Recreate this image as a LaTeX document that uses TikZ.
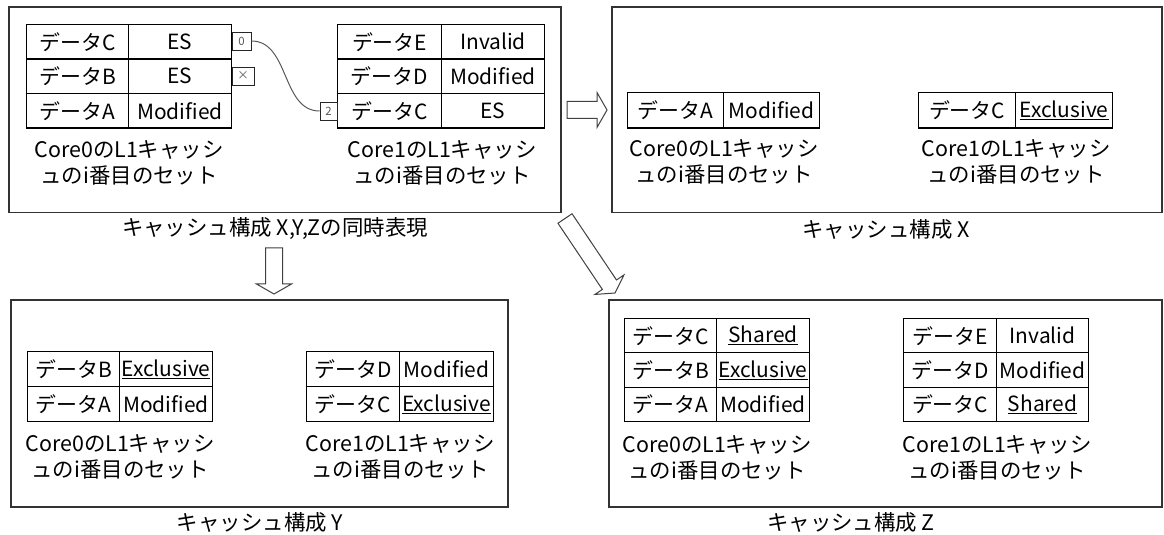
\documentclass[tikz,border=0pt]{standalone}
\usepackage{fontspec}
\setmainfont{Noto Sans CJK JP}
\usetikzlibrary{calc}
\tikzset{
  panel/.style={draw=black!80, line width=1.3bp},
  cell/.style={draw=black, line width=1.1bp, inner sep=0pt, anchor=north west,
    font=\fontsize{21}{24}\selectfont},
  capt/.style={align=center, inner sep=0pt, font=\fontsize{21.5}{26}\selectfont},
  ttl/.style={inner sep=0pt, font=\fontsize{21.5}{24}\selectfont},
  tag/.style={draw=black!85, line width=0.9bp, inner sep=0pt, minimum height=18bp,
    text=black!65, font=\fontsize{11.5}{11.5}\selectfont},
  link/.style={draw=black!65, line width=1bp},
  barrow/.style={draw=black!75, line width=1bp, fill=white, line join=miter},
}
% one table row: name, x, y, w1, w2, h, label, state
\newcommand\crow[8]{%
  \node[cell, minimum width=#4bp, minimum height=#6bp] (#1a) at (#2,#3) {#7};
  \node[cell, minimum width=#5bp, minimum height=#6bp] (#1b) at (#2+#4,#3) {#8};}
% block arrow: prefix, start, tip
\newcommand\blockarrow[3]{%
  \coordinate (#1h) at ($(#3)!10bp!(#2)$);
  \draw[barrow] ($(#2)!8.5bp!90:(#3)$) -- ($(#1h)!8.5bp!-90:(#2)$)
    -- ($(#1h)!17.5bp!-90:(#2)$) -- (#3) -- ($(#1h)!17.5bp!90:(#2)$)
    -- ($(#1h)!8.5bp!90:(#2)$) -- ($(#2)!8.5bp!-90:(#3)$) -- cycle;}
\newcommand\coretext[1]{Core#1のL1キャッシ\\ュのi番目のセット}
\begin{document}
\begin{tikzpicture}[x=1bp,y=-1bp]
\useasboundingbox (0,0) rectangle (1164,535);
% panels
\node[panel, minimum width=552bp, minimum height=205.5bp] (pTL) at (285,109.75) {};
\node[panel, minimum width=550bp, minimum height=205.5bp] (pTR) at (887,109.75) {};
\node[panel, minimum width=497bp, minimum height=207bp] (pBL) at (259.5,403.5) {};
\node[panel, minimum width=553bp, minimum height=207bp] (pBR) at (885.5,403.5) {};
% titles
\node[ttl] (tTL) at (275,229) {キャッシュ構成 X,Y,Zの同時表現};
\node[ttl] (tTR) at (886,229) {キャッシュ構成 X};
\node[ttl] (tBL) at (260,522) {キャッシュ構成 Y};
\node[ttl] (tBR) at (851,522) {キャッシュ構成 Z};

% ---- top-left: simultaneous representation
\crow{tlA1}{26}{24}{102}{103}{34.5}{データC}{ES}
\crow{tlA2}{26}{58.5}{102}{103}{34.5}{データB}{ES}
\crow{tlA3}{26}{93}{102}{103}{34.5}{データA}{Modified}
\node[capt] (ctlA) at ($(tlA3a.south east)+(0,34)$) {\coretext{0}};
\crow{tlB1}{337}{24}{104}{103}{34.5}{データE}{Invalid}
\crow{tlB2}{337}{58.5}{104}{103}{34.5}{データD}{Modified}
\crow{tlB3}{337}{93}{104}{103}{34.5}{データC}{ES}
\node[capt] (ctlB) at ($(tlB3a.south east)+(0,34)$) {\coretext{1}};
\node[tag, minimum width=19bp] (g0) at (241.5,41) {0};
\node[tag, minimum width=22bp] (gx) at (243,76) {×};
\node[tag, minimum width=17bp] (g2) at (328.5,111) {2};
\draw[link] (g0.east) to[out=0,in=180] (g2.west);

% ---- top-right: X
\crow{trA1}{627}{92}{96}{96}{35.5}{データA}{Modified}
\node[capt] (ctrA) at ($(trA1a.south east)+(0,33)$) {\coretext{0}};
\crow{trB1}{918}{92}{97}{97}{35.5}{データC}{\underline{Exclusive}}
\node[capt] (ctrB) at ($(trB1a.south east)+(0,33)$) {\coretext{1}};

% ---- bottom-left: Y
\crow{blA1}{27}{351}{92}{93}{35}{データB}{\underline{Exclusive}}
\crow{blA2}{27}{386}{92}{93}{35}{データA}{Modified}
\node[capt] (cblA) at ($(blA2a.south east)+(0,34.5)$) {\coretext{0}};
\crow{blB1}{306}{351}{93}{94}{35}{データD}{Modified}
\crow{blB2}{306}{386}{93}{94}{35}{データC}{\underline{Exclusive}}
\node[capt] (cblB) at ($(blB2a.south east)+(0,34.5)$) {\coretext{1}};

% ---- bottom-right: Z
\crow{brA1}{624}{318}{92}{93}{34.3}{データC}{\underline{Shared}}
\crow{brA2}{624}{352.3}{92}{93}{34.3}{データB}{\underline{Exclusive}}
\crow{brA3}{624}{386.6}{92}{93}{34.4}{データA}{Modified}
\node[capt] (cbrA) at ($(brA3a.south east)+(0,35.5)$) {\coretext{0}};
\crow{brB1}{903}{318}{93}{92}{34.3}{データE}{Invalid}
\crow{brB2}{903}{352.3}{93}{92}{34.3}{データD}{Modified}
\crow{brB3}{903}{386.6}{93}{92}{34.4}{データC}{\underline{Shared}}
\node[capt] (cbrB) at ($(brB3a.south east)+(0,35.5)$) {\coretext{1}};

% ---- block arrows
\coordinate (r1s) at (567,110);
\coordinate (r1t) at (607,110);
\blockarrow{r1}{r1s}{r1t}
\coordinate (d1s) at (274,248);
\coordinate (d1t) at (274,294);
\blockarrow{d1}{d1s}{d1t}
\coordinate (q1s) at (565,218.5);
\coordinate (q1t) at (615,293);
\blockarrow{q1}{q1s}{q1t}
\end{tikzpicture}
\end{document}
